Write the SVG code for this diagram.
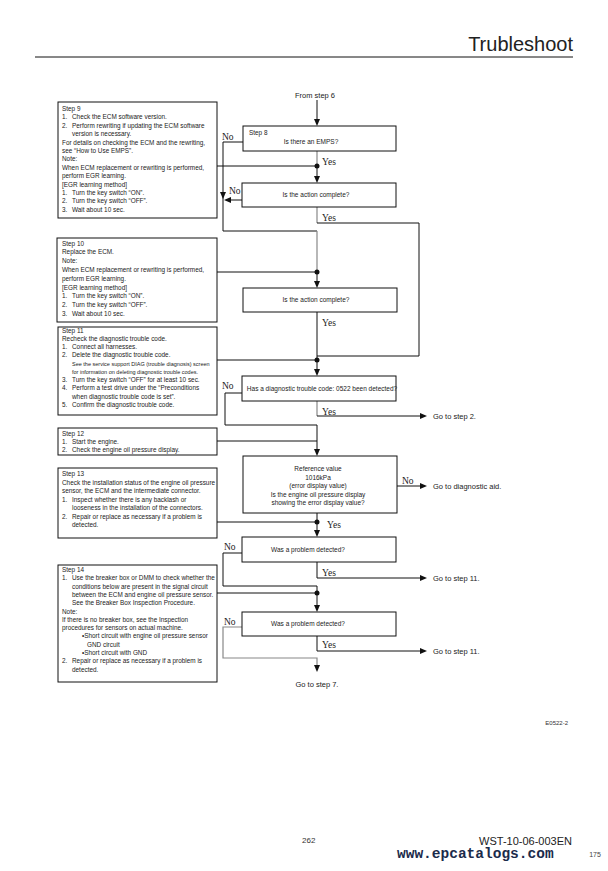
<svg xmlns="http://www.w3.org/2000/svg" width="608" height="871" viewBox="0 0 608 871">
<style>
.bx{fill:#fff;stroke:#111;stroke-width:1}
.t{font-family:"Liberation Sans",Arial,sans-serif;font-size:6.4px;fill:#222}
.ts{font-family:"Liberation Sans",Arial,sans-serif;font-size:5.5px;fill:#222}
.q{font-family:"Liberation Sans",Arial,sans-serif;font-size:6.5px;fill:#222;text-anchor:middle}
.g{font-family:"Liberation Sans",Arial,sans-serif;font-size:7.5px;fill:#222}
.yn{font-family:"Liberation Serif","Times New Roman",serif;font-size:9.5px;fill:#222}
.ln{fill:none;stroke:#111;stroke-width:1}
.lg{fill:none;stroke:#888;stroke-width:1.2}
.ah{fill:#111}
</style>
<rect width="608" height="871" fill="#fff"/>
<text x="573" y="51" text-anchor="end" font-family="Liberation Sans,Arial,sans-serif" font-size="20" fill="#222">Trubleshoot</text>
<line x1="35" y1="57" x2="573" y2="57" stroke="#111" stroke-width="1"/>

<g id="connectors">
<path class="ln" d="M317,100V120"/><polygon class="ah" points="317,126 314,119 320,119"/>
<path class="ln" d="M243,142H223V231H317"/><path class="lg" d="M317,231V272"/>
<polygon class="ah" points="223,199 220,192 226,192"/>
<path class="lg" d="M317,151V166"/><path class="ln" d="M217,166H317V177"/>
<polygon class="ah" points="317,183 314,176 320,176"/>
<circle cx="317" cy="166" r="2.5" fill="#111"/>
<path class="ln" d="M242,200H230"/><polygon class="ah" points="224,200 231,197 231,203"/>
<path class="lg" d="M317,207V223"/><path class="ln" d="M317,223H419V356H317"/>
<path class="ln" d="M217,272H317V282"/><polygon class="ah" points="317,288 314,281 320,281"/>
<circle cx="317" cy="272" r="2.5" fill="#111"/>
<path class="ln" d="M317,312V370"/><path class="ln" d="M217,360H317"/>
<circle cx="317" cy="360" r="2.5" fill="#111"/>
<polygon class="ah" points="317,376 314,369 320,369"/>
<path class="ln" d="M242,393H225V425H317"/>
<path class="lg" d="M317,401V416"/><path class="ln" d="M317,416H421"/><polygon class="ah" points="427,416 420,413 420,419"/>
<path class="ln" d="M317,425V450"/><path class="ln" d="M217,441H317"/>
<polygon class="ah" points="317,456 314,449 320,449"/>
<path class="ln" d="M397,486H421"/><polygon class="ah" points="427,486 420,483 420,489"/>
<path class="ln" d="M317,513V531"/><path class="ln" d="M217,522H317"/>
<circle cx="317" cy="522" r="2.5" fill="#111"/>
<polygon class="ah" points="317,537 314,530 320,530"/>
<path class="ln" d="M242,553H223V586H317"/>
<path class="ln" d="M317,562V578H421"/><polygon class="ah" points="427,578 420,575 420,581"/>
<path class="ln" d="M317,586V606"/><path class="ln" d="M217,593H317"/>
<circle cx="317" cy="593" r="2.5" fill="#111"/>
<polygon class="ah" points="317,612 314,605 320,605"/>
<path class="lg" d="M242,627H223V658H317V666"/><polygon class="ah" points="317,672 314,665 320,665"/>
<path class="ln" d="M317,636V651H421"/><polygon class="ah" points="427,651 420,648 420,654"/>
</g>

<g id="labels">
<text class="g" x="315" y="98" text-anchor="middle">From step 6</text>
<text class="yn" x="222" y="140">No</text>
<text class="yn" x="322" y="165">Yes</text>
<text class="yn" x="229" y="194">No</text>
<text class="yn" x="322" y="221">Yes</text>
<text class="yn" x="322" y="326">Yes</text>
<text class="yn" x="222" y="389">No</text>
<text class="yn" x="322" y="415">Yes</text>
<text class="g" x="433" y="419">Go to step 2.</text>
<text class="yn" x="402" y="484">No</text>
<text class="g" x="433" y="489">Go to diagnostic aid.</text>
<text class="yn" x="327" y="528">Yes</text>
<text class="yn" x="224" y="550">No</text>
<text class="yn" x="322" y="576">Yes</text>
<text class="g" x="433" y="581">Go to step 11.</text>
<text class="yn" x="224" y="625">No</text>
<text class="yn" x="322" y="648">Yes</text>
<text class="g" x="433" y="654">Go to step 11.</text>
<text class="g" x="317" y="687" text-anchor="middle">Go to step 7.</text>
</g>

<g id="step8">
<rect class="bx" x="243" y="126" width="153" height="25"/>
<text class="t" x="249" y="135">Step 8</text>
<text class="q" x="311" y="144">Is there an EMPS?</text>
</g>
<g id="q-action1">
<rect class="bx" x="242" y="183" width="154" height="24"/>
<text class="q" x="316" y="197">Is the action complete?</text>
</g>
<g id="q-action2">
<rect class="bx" x="243" y="288" width="154" height="24"/>
<text class="q" x="316" y="302">Is the action complete?</text>
</g>
<g id="q-dtc">
<rect class="bx" x="242" y="376" width="154" height="25"/>
<text class="q" x="322" y="391" font-size="6">Has a diagnostic trouble code: 0522 been detected?</text>
</g>
<g id="q-ref">
<rect class="bx" x="243" y="456" width="154" height="57"/>
<text class="q" x="318" y="471">Reference value</text>
<text class="q" x="318" y="479.5">1016kPa</text>
<text class="q" x="318" y="488">(error display value)</text>
<text class="q" x="318" y="496.5">Is the engine oil pressure display</text>
<text class="q" x="318" y="505">showing the error display value?</text>
</g>
<g id="q-problem1">
<rect class="bx" x="242" y="537" width="154" height="25"/>
<text class="q" x="308" y="552">Was a problem detected?</text>
</g>
<g id="q-problem2">
<rect class="bx" x="242" y="612" width="154" height="24"/>
<text class="q" x="308" y="626">Was a problem detected?</text>
</g>

<g id="step9">
<rect class="bx" x="58" y="102" width="159" height="116"/>
<text class="t" x="62" y="111">Step 9</text>
<text class="t" x="62" y="119.4">1.</text><text class="t" x="72" y="119.4">Check the ECM software version.</text>
<text class="t" x="62" y="127.8">2.</text><text class="t" x="72" y="127.8">Perform rewriting if updating the ECM software</text>
<text class="t" x="72" y="136.2">version is necessary.</text>
<text class="t" x="62" y="144.6">For details on checking the ECM and the rewriting,</text>
<text class="t" x="62" y="153">see “How to Use EMPS”.</text>
<text class="t" x="62" y="161.4">Note:</text>
<text class="t" x="62" y="169.8">When ECM replacement or rewriting is performed,</text>
<text class="t" x="62" y="178.2">perform EGR learning.</text>
<text class="t" x="62" y="186.6">[EGR learning method]</text>
<text class="t" x="62" y="195">1.</text><text class="t" x="72" y="195">Turn the key switch “ON”.</text>
<text class="t" x="62" y="203.4">2.</text><text class="t" x="72" y="203.4">Turn the key switch “OFF”.</text>
<text class="t" x="62" y="211.8">3.</text><text class="t" x="72" y="211.8">Wait about 10 sec.</text>
</g>

<g id="step10">
<rect class="bx" x="57" y="238" width="160" height="84"/>
<text class="t" x="62" y="245.5">Step 10</text>
<text class="t" x="62" y="254.3">Replace the ECM.</text>
<text class="t" x="62" y="263.1">Note:</text>
<text class="t" x="62" y="271.9">When ECM replacement or rewriting is performed,</text>
<text class="t" x="62" y="280.7">perform EGR learning.</text>
<text class="t" x="62" y="289.5">[EGR learning method]</text>
<text class="t" x="62" y="298.3">1.</text><text class="t" x="72" y="298.3">Turn the key switch “ON”.</text>
<text class="t" x="62" y="307.1">2.</text><text class="t" x="72" y="307.1">Turn the key switch “OFF”.</text>
<text class="t" x="62" y="315.9">3.</text><text class="t" x="72" y="315.9">Wait about 10 sec.</text>
</g>

<g id="step11">
<rect class="bx" x="58" y="327" width="159" height="88"/>
<text class="t" x="62" y="332.5">Step 11</text>
<text class="t" x="62" y="340.8">Recheck the diagnostic trouble code.</text>
<text class="t" x="62" y="349.1">1.</text><text class="t" x="72" y="349.1">Connect all harnesses.</text>
<text class="t" x="62" y="357.4">2.</text><text class="t" x="72" y="357.4">Delete the diagnostic trouble code.</text>
<text class="ts" x="72" y="365.5">See the service support DIAG (trouble diagnosis) screen</text>
<text class="ts" x="72" y="373.5">for information on deleting diagnostic trouble codes.</text>
<text class="t" x="62" y="382">3.</text><text class="t" x="72" y="382">Turn the key switch “OFF” for at least 10 sec.</text>
<text class="t" x="62" y="390.3">4.</text><text class="t" x="72" y="390.3">Perform a test drive under the “Preconditions</text>
<text class="t" x="72" y="398.6">when diagnostic trouble code is set”.</text>
<text class="t" x="62" y="406.9">5.</text><text class="t" x="72" y="406.9">Confirm the diagnostic trouble code.</text>
</g>

<g id="step12">
<rect class="bx" x="58" y="428" width="159" height="27"/>
<text class="t" x="62" y="435.5">Step 12</text>
<text class="t" x="62" y="443.8">1.</text><text class="t" x="72" y="443.8">Start the engine.</text>
<text class="t" x="62" y="452">2.</text><text class="t" x="72" y="452">Check the engine oil pressure display.</text>
</g>

<g id="step13">
<rect class="bx" x="58" y="468" width="159" height="70"/>
<text class="t" x="62" y="476">Step 13</text>
<text class="t" x="62" y="484.5">Check the installation status of the engine oil pressure</text>
<text class="t" x="62" y="493">sensor, the ECM and the intermediate connector.</text>
<text class="t" x="62" y="501.5">1.</text><text class="t" x="72" y="501.5">Inspect whether there is any backlash or</text>
<text class="t" x="72" y="510">looseness in the installation of the connectors.</text>
<text class="t" x="62" y="518.5">2.</text><text class="t" x="72" y="518.5">Repair or replace as necessary if a problem is</text>
<text class="t" x="72" y="527">detected.</text>
</g>

<g id="step14">
<rect class="bx" x="58" y="565" width="159" height="117"/>
<text class="t" x="62" y="572">Step 14</text>
<text class="t" x="62" y="580.3">1.</text><text class="t" x="72" y="580.3">Use the breaker box or DMM to check whether the</text>
<text class="t" x="72" y="588.6">conditions below are present in the signal circuit</text>
<text class="t" x="72" y="596.9">between the ECM and engine oil pressure sensor.</text>
<text class="t" x="72" y="605.2">See the Breaker Box Inspection Procedure.</text>
<text class="t" x="62" y="613.5">Note:</text>
<text class="t" x="62" y="621.8">If there is no breaker box, see the Inspection</text>
<text class="t" x="62" y="630.1">procedures for sensors on actual machine.</text>
<text class="t" x="82" y="638.4">•Short circuit with engine oil pressure sensor</text>
<text class="t" x="87" y="646.7">GND circuit</text>
<text class="t" x="82" y="655">•Short circuit with GND</text>
<text class="t" x="62" y="663.3">2.</text><text class="t" x="72" y="663.3">Repair or replace as necessary if a problem is</text>
<text class="t" x="72" y="671.6">detected.</text>
</g>

<g id="footer">
<text x="568" y="725" text-anchor="end" font-family="Liberation Sans,Arial,sans-serif" font-size="6" fill="#333">E0522-2</text>
<text x="302" y="843" font-family="Liberation Sans,Arial,sans-serif" font-size="8" fill="#333">262</text>
<text x="572" y="845" text-anchor="end" font-family="Liberation Sans,Arial,sans-serif" font-size="11" fill="#222">WST-10-06-003EN</text>
<text x="397" y="858" font-family="Liberation Mono,Courier New,monospace" font-size="14.5" font-weight="bold" fill="#1b2b4b">www.epcatalogs.com</text>
<text x="595" y="857" text-anchor="middle" font-family="Liberation Sans,Arial,sans-serif" font-size="7" fill="#444">175</text>
</g>
</svg>
